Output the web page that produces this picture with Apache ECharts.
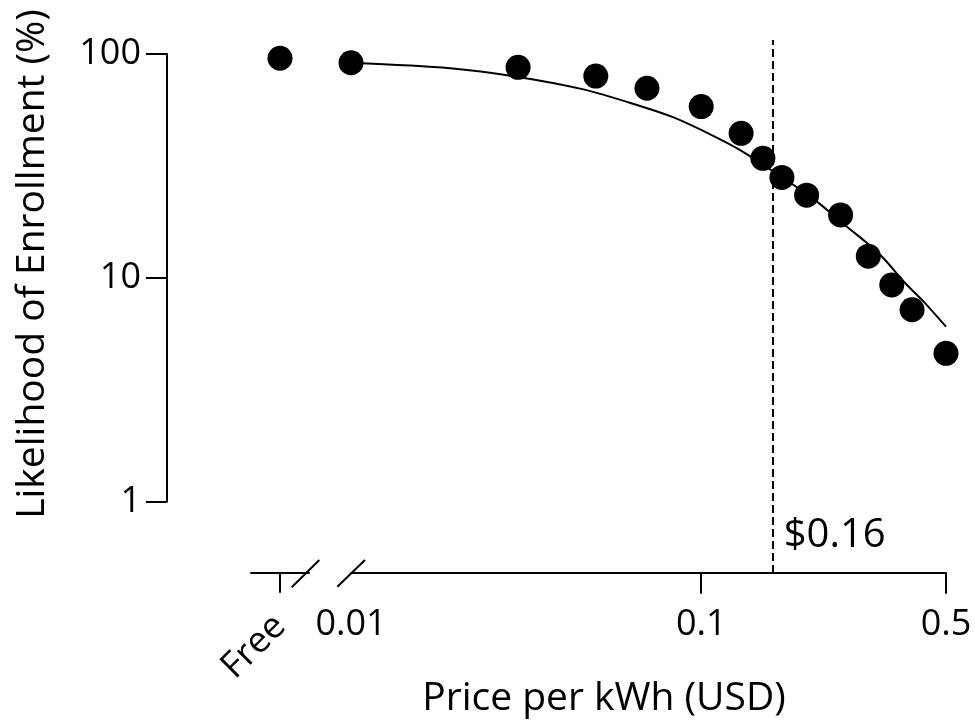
<!DOCTYPE html>
<html>
<head>
<meta charset="utf-8">
<script src="https://cdn.jsdelivr.net/npm/echarts@6/dist/echarts.min.js"></script>
<style>
  html, body { margin: 0; padding: 0; background: #fff; }
  #main { width: 975px; height: 728px; }
</style>
</head>
<body>
<div id="main"></div>
<script>
// 数据
var prices = [0.01, 0.03, 0.05, 0.07, 0.10, 0.13, 0.15, 0.17, 0.20, 0.25, 0.30, 0.35, 0.40, 0.50];
var likelihood = [91.4, 87.2, 79.7, 70.3, 58.2, 44.2, 34.2, 28.1, 23.4, 19.1, 12.5, 9.3, 7.2, 4.6];
var freeCategories = ['', 'Free', ''];
var freeLikelihood = [95.7];

// 拟合曲线
var fitX = [0.01, 0.0192, 0.0297, 0.0461, 0.0669, 0.0834, 0.1038, 0.1292, 0.1835, 0.2141, 0.2608, 0.2974, 0.332, 0.3827, 0.4317, 0.5];
var fitY = [91.4, 86.4, 79.2, 69.5, 58.6, 52.1, 44.5, 37.2, 26.0, 21.9, 16.9, 14.3, 12.2, 9.46, 7.83, 6.05];

var xTickValues = [0.1, 0.5];
var xLabelValues = [0.01, 0.1, 0.5];
var cutoffPrice = 0.16;

var FONT = 'Open Sans';
var FS = 36;      // 刻度标签
var FS_T = 39;    // 轴标题

var chart = echarts.init(document.getElementById('main'));

var option = {
    backgroundColor: '#fff',
    animation: false,
    textStyle: { fontFamily: FONT, color: '#000' },
    grid: [
        { left: 351, right: 29, top: 54, bottom: 226.3 },   // 主图
        { left: 251, width: 58, top: 54, bottom: 226.3 },   // Free
        { left: 351, right: 29, top: 40, bottom: 155 }      // 虚线
    ],
    xAxis: [
        {
            type: 'log', gridIndex: 0, logBase: 10, min: 0.01, max: 0.5,
            offset: 71,
            axisLine: { lineStyle: { color: '#000', width: 2 } },
            axisTick: { length: 21, lineStyle: { color: '#000', width: 2 }, customValues: xTickValues },
            axisLabel: {
                customValues: xLabelValues, margin: 34,
                fontSize: FS, color: '#000', fontFamily: FONT,
                formatter: function (v) { return String(+v.toFixed(2)); }
            },
            splitLine: { show: false }
        },
        {
            type: 'category', gridIndex: 1, data: freeCategories, boundaryGap: false,
            offset: 71,
            axisLine: { lineStyle: { color: '#000', width: 2 } },
            axisTick: {
                length: 20, lineStyle: { color: '#000', width: 2 },
                interval: function (i, v) { return v === 'Free'; }
            },
            axisLabel: {
                rotate: 45, margin: 48, fontSize: FS, color: '#000', fontFamily: FONT,
                interval: function (i, v) { return v === 'Free'; }
            },
            splitLine: { show: false }
        },
        { type: 'log', gridIndex: 2, min: 0.01, max: 0.5, show: false }
    ],
    yAxis: [
        {
            type: 'log', gridIndex: 0, logBase: 10, min: 1, max: 100,
            position: 'left', offset: 184,
            axisLine: { show: true, lineStyle: { color: '#000', width: 2 } },
            axisTick: { show: true, length: 21, lineStyle: { color: '#000', width: 2 } },
            axisLabel: { margin: 26, fontSize: FS, color: '#000', fontFamily: FONT },
            splitLine: { show: false }
        },
        { type: 'log', gridIndex: 1, min: 1, max: 100, show: false },
        { type: 'value', gridIndex: 2, min: 0, max: 1, show: false }
    ],
    series: [
        {
            name: 'fit', type: 'line', xAxisIndex: 0, yAxisIndex: 0,
            data: fitX.map(function (x, i) { return [x, fitY[i]]; }),
            smooth: 0.3, showSymbol: false, symbol: 'none',
            lineStyle: { color: '#000', width: 2 }, z: 2
        },
        {
            name: 'data', type: 'scatter', xAxisIndex: 0, yAxisIndex: 0,
            data: prices.map(function (x, i) { return [x, likelihood[i]]; }),
            symbolSize: 25, itemStyle: { color: '#000', opacity: 1 }, z: 3
        },
        {
            name: 'free', type: 'scatter', xAxisIndex: 1, yAxisIndex: 1,
            data: freeLikelihood.map(function (v) { return ['Free', v]; }),
            symbolSize: 25, itemStyle: { color: '#000', opacity: 1 }, z: 3
        },
        {
            name: 'cutoff', type: 'scatter', xAxisIndex: 2, yAxisIndex: 2,
            data: [],
            markLine: {
                silent: true, symbol: 'none', animation: false,
                label: { show: false },
                lineStyle: { color: '#000', width: 2, type: [8, 4] },
                data: [{ xAxis: cutoffPrice }]
            }
        }
    ],
    graphic: [
        // 坐标轴断裂标记
        { id: 'brk1', type: 'line', shape: { x1: 291.7, y1: 587.3, x2: 319.3, y2: 560 }, style: { stroke: '#000', lineWidth: 2 } },
        { id: 'brk2', type: 'line', shape: { x1: 337.3, y1: 586.7, x2: 365, y2: 560 }, style: { stroke: '#000', lineWidth: 2 } },
        {
            id: 'xname', type: 'text', x: 604, y: 699,
            style: { text: 'Price per kWh (USD)', font: FS_T + 'px "' + FONT + '"', fill: '#000', textAlign: 'center', textVerticalAlign: 'middle' }
        },
        {
            id: 'yname', type: 'text', x: 33, y: 264, rotation: Math.PI / 2,
            style: { text: 'Likelihood of Enrollment (%)', font: FS_T + 'px "' + FONT + '"', fill: '#000', textAlign: 'center', textVerticalAlign: 'middle' }
        }
    ]
};

chart.setOption(option);

// $0.16 标签, 位置由坐标轴换算
var cx = chart.convertToPixel({ xAxisIndex: 0 }, cutoffPrice);
var g = option.graphic.concat([{
    id: 'cutlabel', type: 'text', x: cx + 11, y: 536,
    style: { text: '$0.16', font: '40px "' + FONT + '"', fill: '#000', textAlign: 'left', textVerticalAlign: 'middle' }
}]);
chart.setOption({ graphic: g });
</script>
</body>
</html>
